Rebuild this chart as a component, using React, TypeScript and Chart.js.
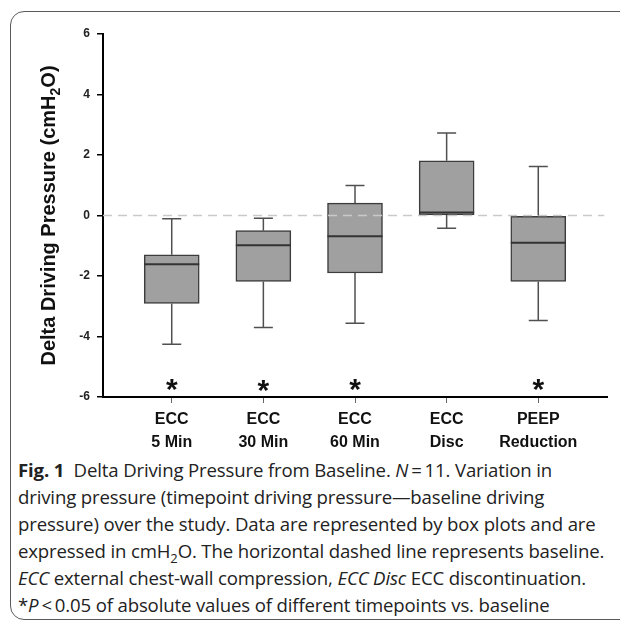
import React, { useEffect, useRef } from "react";
import { Chart, registerables } from "chart.js";

Chart.register(...registerables);

// ---- data ----
const categories: string[][] = [
  ["ECC", "5 Min"],
  ["ECC", "30 Min"],
  ["ECC", "60 Min"],
  ["ECC", "Disc"],
  ["PEEP", "Reduction"],
];
const whiskerLow = [-4.26, -3.7, -3.56, -0.42, -3.47];
const q1 = [-2.91, -2.18, -1.9, 0.02, -2.18];
const median = [-1.61, -0.98, -0.69, 0.1, -0.9];
const q3 = [-1.3, -0.5, 0.41, 1.81, 0.0];
const whiskerHigh = [-0.11, -0.09, 0.99, 2.73, 1.62];
const asteriskY: (number | null)[] = [-5.49, -5.53, -5.49, null, -5.49];
const yMin = -6;
const yMax = 6;
const yStep = 2;
const baselineValue = 0;

const CHART_FONT = "'Liberation Sans', Arial, Helvetica, sans-serif";

const boxExtras = {
  id: "boxExtras",
  afterDatasetsDraw(chart: any) {
    const { ctx, scales } = chart;
    const x = scales.x;
    const y = scales.y;
    ctx.save();
    categories.forEach((_, i) => {
      const cx = x.getPixelForValue(i);
      const half = 27.5;
      const capHalf = 9.5;
      const yHi = y.getPixelForValue(whiskerHigh[i]);
      const yLo = y.getPixelForValue(whiskerLow[i]);
      const yQ3 = y.getPixelForValue(q3[i]);
      const yQ1 = y.getPixelForValue(q1[i]);
      ctx.strokeStyle = "#505050";
      ctx.lineWidth = 1.5;
      ctx.beginPath();
      ctx.moveTo(cx, yQ3);
      ctx.lineTo(cx, yHi);
      ctx.moveTo(cx - capHalf, yHi);
      ctx.lineTo(cx + capHalf, yHi);
      ctx.moveTo(cx, yQ1);
      ctx.lineTo(cx, yLo);
      ctx.moveTo(cx - capHalf, yLo);
      ctx.lineTo(cx + capHalf, yLo);
      ctx.stroke();
      const ym = y.getPixelForValue(median[i]);
      ctx.strokeStyle = "#333";
      ctx.lineWidth = 2;
      ctx.beginPath();
      ctx.moveTo(cx - half, ym);
      ctx.lineTo(cx + half, ym);
      ctx.stroke();
      const a = asteriskY[i];
      if (a !== null) {
        ctx.fillStyle = "#111";
        ctx.font = `bold 30px ${CHART_FONT}`;
        ctx.textAlign = "center";
        ctx.textBaseline = "alphabetic";
        ctx.fillText("*", cx, y.getPixelForValue(a) + 17);
      }
    });
    ctx.restore();
  },
  afterDraw(chart: any) {
    const { ctx, chartArea } = chart;
    const cy = (chartArea.top + chartArea.bottom) / 2;
    ctx.save();
    ctx.translate(55, cy);
    ctx.rotate(-Math.PI / 2);
    ctx.fillStyle = "#111";
    ctx.textBaseline = "alphabetic";
    ctx.textAlign = "left";
    const big = `bold 20px ${CHART_FONT}`;
    const small = `bold 14px ${CHART_FONT}`;
    const p1 = "Delta Driving Pressure (cmH";
    const p2 = "2";
    const p3 = "O)";
    ctx.font = big;
    const w1 = ctx.measureText(p1).width;
    const w3 = ctx.measureText(p3).width;
    ctx.font = small;
    const w2 = ctx.measureText(p2).width;
    let sx = -(w1 + w2 + w3) / 2;
    ctx.font = big;
    ctx.fillText(p1, sx, 0);
    sx += w1;
    ctx.font = small;
    ctx.fillText(p2, sx, 5);
    sx += w2;
    ctx.font = big;
    ctx.fillText(p3, sx, 0);
    ctx.restore();
  },
};

function BoxChart() {
  const ref = useRef<HTMLCanvasElement | null>(null);
  useEffect(() => {
    if (!ref.current) return;
    const chart = new Chart(ref.current, {
      type: "bar",
      data: {
        datasets: [
          {
            type: "line",
            data: [
              { x: -0.75, y: baselineValue },
              { x: 4.72, y: baselineValue },
            ],
            borderColor: "#c9c9c9",
            borderWidth: 1.5,
            borderDash: [9, 6],
            pointRadius: 0,
            order: 0,
          } as any,
          {
            type: "bar",
            data: categories.map((_, i) => ({ x: i, y: [q1[i], q3[i]] })),
            backgroundColor: "#a0a0a0",
            borderColor: "#3c3c3c",
            borderWidth: 1.5,
            borderSkipped: false,
            barThickness: 55,
            order: 1,
          } as any,
        ],
      },
      options: {
        responsive: false,
        animation: false,
        devicePixelRatio: 1,
        layout: { padding: { top: 34, right: 13, left: 0, bottom: 0 } },
        plugins: { legend: { display: false }, tooltip: { enabled: false } },
        scales: {
          x: {
            type: "linear",
            min: -0.75,
            max: 4.75,
            offset: false,
            afterBuildTicks: (s: any) => {
              s.ticks = categories.map((_, i) => ({ value: i }));
            },
            afterFit: (s: any) => {
              s.height = 58;
            },
            ticks: {
              autoSkip: false,
              maxRotation: 0,
              padding: 6,
              color: "#111",
              font: { family: CHART_FONT, size: 16, weight: "bold", lineHeight: 1.38 },
              callback: (v: any) => categories[v as number] ?? "",
            },
            grid: { offset: false, drawOnChartArea: false, tickLength: 6, color: "#666", lineWidth: 1 },
            border: { color: "#000", width: 2 },
          },
          y: {
            type: "linear",
            min: yMin,
            max: yMax,
            afterFit: (s: any) => {
              s.width = 103;
            },
            ticks: {
              stepSize: yStep,
              padding: 7,
              color: "#222",
              font: { family: CHART_FONT, size: 12, weight: "bold" },
            },
            grid: { drawOnChartArea: false, tickLength: 6, color: "#000", lineWidth: 1.5 },
            border: { color: "#000", width: 2 },
          },
        },
      },
      plugins: [boxExtras],
    } as any);
    return () => chart.destroy();
  }, []);
  return <canvas ref={ref} width={620} height={455} style={{ display: "block" }} />;
}

const captionFont = "'Open Sans', 'Noto Sans', sans-serif";

export default function App() {
  const line: React.CSSProperties = { whiteSpace: "nowrap", height: 27 };
  return (
    <div
      style={{
        position: "fixed",
        left: 0,
        top: 0,
        width: 620,
        height: 622,
        background: "#fff",
        overflow: "hidden",
      }}
    >
      <div
        style={{
          position: "absolute",
          left: 10,
          top: 11,
          width: 660,
          height: 607,
          border: "1.5px solid #5a5a5a",
          borderRadius: 14,
        }}
      />
      <div style={{ position: "absolute", left: 0, top: 0 }}>
        <BoxChart />
      </div>
      <div
        style={{
          position: "absolute",
          left: 18,
          top: 456,
          fontFamily: captionFont,
          fontSize: 18.6,
          lineHeight: "27px",
          color: "#222",
          letterSpacing: -0.15,
        }}
      >
        <div style={line}>
          <b>Fig. 1</b>&nbsp; Delta Driving Pressure from Baseline. <i>N</i>&thinsp;=&thinsp;11. Variation in
        </div>
        <div style={line}>driving pressure (timepoint driving pressure—baseline driving</div>
        <div style={line}>pressure) over the study. Data are represented by box plots and are</div>
        <div style={line}>
          expressed in cmH<sub style={{ fontSize: 13, lineHeight: 0 }}>2</sub>O. The horizontal dashed line represents baseline.
        </div>
        <div style={line}>
          <i>ECC</i> external chest-wall compression, <i>ECC Disc</i> ECC discontinuation.
        </div>
        <div style={line}>
          *<i>P</i>&thinsp;&lt;&thinsp;0.05 of absolute values of different timepoints vs. baseline
        </div>
      </div>
    </div>
  );
}
